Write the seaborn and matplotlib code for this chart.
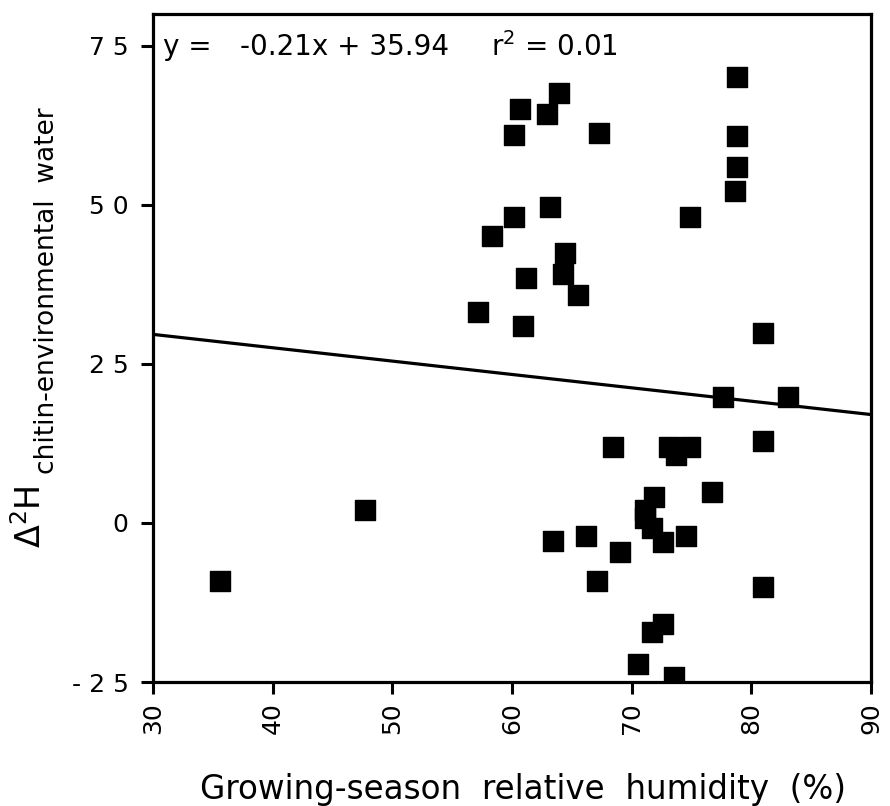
import matplotlib
matplotlib.use("Agg")
import matplotlib.pyplot as plt
import seaborn as sns
import numpy as np
import pandas as pd

# Data
humidity = [78.8, 63.9, 60.7, 62.9, 60.2, 67.3, 78.8, 78.8, 78.6, 63.2,
            60.2, 74.9, 58.3, 64.4, 64.3, 61.2, 65.5, 57.2, 60.9, 81.0,
            77.6, 83.1, 81.0, 68.4, 73.1, 74.9, 73.7, 76.7, 71.9, 71.1,
            71.1, 71.7, 72.6, 74.5, 63.4, 66.2, 69.0, 67.1, 81.0, 72.6,
            71.7, 70.5, 73.5, 47.7, 35.6]
delta2h = [70.1, 67.6, 65.0, 64.3, 61.0, 61.3, 60.9, 55.9, 52.2, 49.7,
           48.1, 48.1, 45.1, 42.5, 39.2, 38.5, 35.8, 33.1, 30.9, 29.9,
           19.8, 19.8, 12.9, 12.0, 12.0, 12.0, 10.7, 4.9, 4.1, 2.0,
           0.7, -0.8, -3.0, -2.0, -2.9, -2.1, -4.5, -9.1, -10.0, -15.9,
           -17.1, -22.1, -24.2, 2.0, -9.2]
slope = -0.21
intercept = 35.94
r2 = 0.01
x_ticks = [30, 40, 50, 60, 70, 80, 90]
y_ticks = [75, 50, 25, 0, -25]
y_tick_labels = ["7 5", "5 0", "2 5", "0", "- 2 5"]

sns.set_theme(style="ticks")
plt.rcParams["font.family"] = ["DejaVu Sans"]
plt.rcParams["mathtext.fontset"] = "dejavusans"

W, H = 890, 806
fig = plt.figure(figsize=(W / 100, H / 100), dpi=100)
ax = fig.add_axes([153 / W, 1 - 682 / H, (871 - 153) / W, (682 - 14) / H])

df = pd.DataFrame({"x": humidity, "y": delta2h})
sns.scatterplot(data=df, x="x", y="y", marker="s", s=200, color="black",
                edgecolor="black", linewidth=1.0, ax=ax, zorder=3)

xs = np.array([30.0, 90.0])
line_df = pd.DataFrame({"x": xs, "y": slope * xs + intercept})
sns.lineplot(data=line_df, x="x", y="y", color="black", linewidth=2.3, ax=ax, zorder=2)

ax.set_xlim(30, 90)
ax.set_ylim(-25, 80)
ax.set_xticks(x_ticks)
ax.set_xticklabels([str(t) for t in x_ticks], rotation=90, fontsize=18, color="black")
ax.set_yticks(y_ticks)
ax.set_yticklabels(y_tick_labels, fontsize=18, color="black")
ax.tick_params(axis="both", direction="out", length=8.5, width=2.2, colors="black")
ax.tick_params(axis="y", pad=9)
ax.tick_params(axis="x", pad=6)
for sp in ax.spines.values():
    sp.set_linewidth(2.3)
    sp.set_color("black")

ax.set_xlabel("Growing-season  relative  humidity  (%)", fontsize=23.5, color="black")
ax.xaxis.set_label_coords(0.516, -0.136)
ax.set_ylabel("")

# y label: main part and subscript
fig.text(31 / W, 1 - 548 / H, r"$\Delta^{2}$H", rotation=90, fontsize=24,
         ha="center", va="bottom", color="black")
fig.text(47 / W, 1 - 474 / H, "chitin-environmental  water", rotation=90,
         fontsize=19, ha="center", va="bottom", color="black")

ax.text(0.014, 0.95, "y =", transform=ax.transAxes, fontsize=20, va="center",
        ha="left", color="black")
ax.text(0.121, 0.95, f"{slope:.2f}x + {intercept:.2f}", transform=ax.transAxes,
        fontsize=20, va="center", ha="left", color="black")
ax.text(0.471, 0.95, f"r$^{{2}}$ = {r2:.2f}", transform=ax.transAxes,
        fontsize=20, va="center", ha="left", color="black")

fig.savefig("out.png", dpi=100)
